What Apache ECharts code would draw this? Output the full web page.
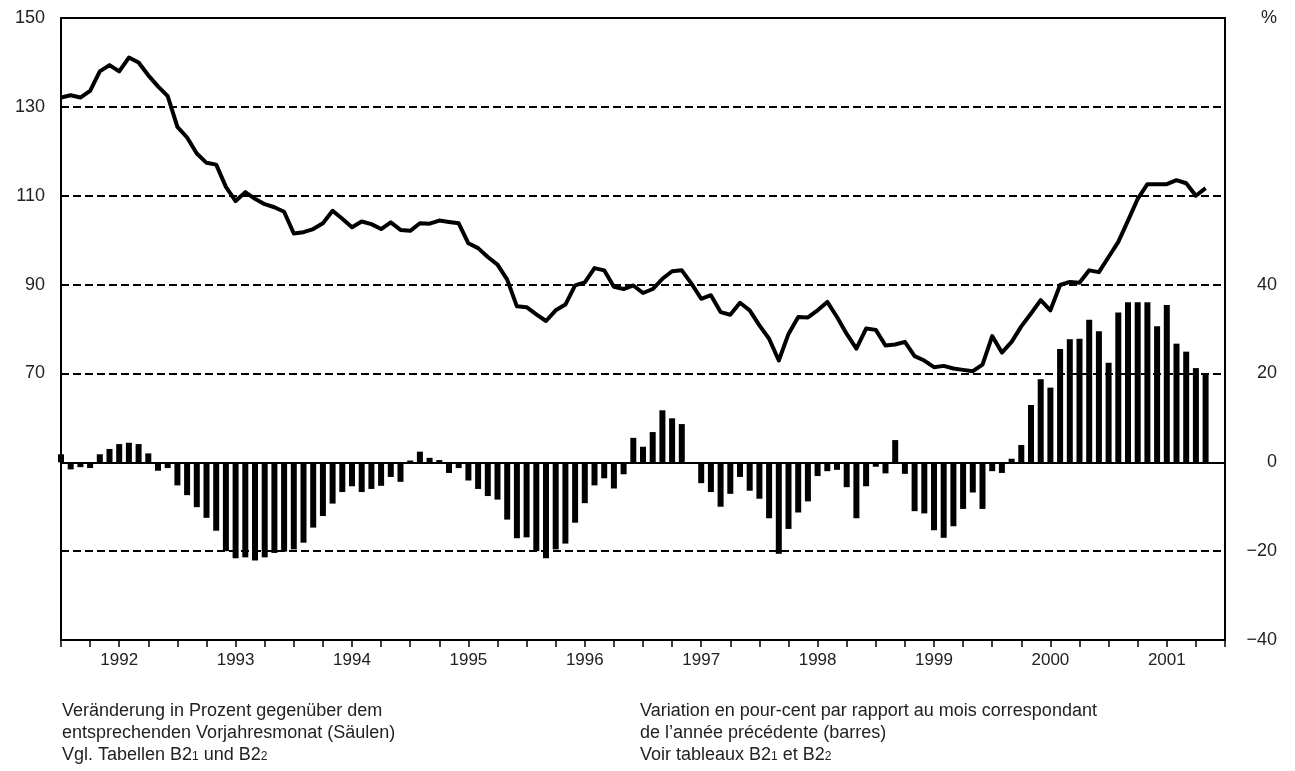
<!DOCTYPE html>
<html>
<head>
<meta charset="utf-8">
<title>Index und Veränderung</title>
<script src="https://cdn.jsdelivr.net/npm/echarts@6/dist/echarts.min.js"></script>
<style>
    html, body { margin: 0; padding: 0; background: #fff; }
    #chart { width: 1295px; height: 771px; }
</style>
</head>
<body>
<div id="chart"></div>
<script>
'use strict';

// Jahre auf der x-Achse (Monate ab Januar 1992)
var years = ['1992', '1993', '1994', '1995', '1996', '1997', '1998', '1999', '2000', '2001'];

// Index, linke Skala (Linie)
var indexValues = [
    132.1, 132.6, 132.1, 133.6, 138.0, 139.4, 138.0, 141.1, 140.0, 137.1, 134.6, 132.4,
    125.5, 123.1, 119.5, 117.4, 117.0, 112.0, 108.8, 110.8, 109.3, 108.1, 107.4, 106.4,
    101.5, 101.8, 102.5, 103.8, 106.6, 104.8, 102.9, 104.2, 103.6, 102.5, 104.0, 102.3,
    102.1, 103.8, 103.7, 104.4, 104.1, 103.8, 99.3, 98.2, 96.2, 94.5, 91.1, 85.1,
    84.9, 83.3, 81.8, 84.2, 85.5, 89.8, 90.5, 93.7, 93.2, 89.5, 89.0, 89.8,
    88.1, 89.0, 91.3, 93.0, 93.2, 90.2, 86.8, 87.6, 83.8, 83.2, 85.9, 84.2,
    80.8, 77.8, 72.9, 78.9, 82.7, 82.6, 84.2, 86.1, 82.7, 78.9, 75.6, 80.1,
    79.8, 76.3, 76.5, 77.1, 73.9, 72.9, 71.4, 71.7, 71.1, 70.8, 70.5, 72.0,
    78.4, 74.7, 77.1, 80.6, 83.5, 86.5, 84.2, 89.9, 90.6, 90.4, 93.2, 92.8,
    96.2, 99.6, 104.4, 109.3, 112.6, 112.6, 112.6, 113.5, 112.8, 110.0, 111.7
];

// Veränderung gegenüber Vorjahresmonat in %, rechte Skala (Säulen)
var changeValues = [
    1.8, -1.6, -1.1, -1.3, 1.8, 3.0, 4.1, 4.4, 4.1, 2.0, -1.9, -1.3,
    -5.2, -7.4, -10.1, -12.5, -15.4, -20.0, -21.6, -21.4, -22.1, -21.4, -20.4, -20.1,
    -19.6, -18.1, -14.7, -12.1, -9.3, -6.7, -5.4, -6.7, -6.0, -5.3, -3.3, -4.4,
    0.4, 2.4, 1.0, 0.5, -2.4, -1.3, -4.1, -6.0, -7.6, -8.4, -12.9, -17.1,
    -16.9, -20.0, -21.6, -19.6, -18.3, -13.6, -9.2, -5.2, -3.6, -5.9, -2.7, 5.5,
    3.5, 6.8, 11.7, 9.9, 8.6, -0.3, -4.7, -6.7, -10.0, -7.1, -3.3, -6.4,
    -8.2, -12.6, -20.6, -15.0, -11.3, -8.8, -3.1, -2.0, -1.7, -5.6, -12.6, -5.4,
    -1.0, -2.5, 5.0, -2.6, -11.0, -11.5, -15.3, -17.0, -14.4, -10.5, -6.8, -10.5,
    -2.0, -2.4, 0.8, 3.9, 12.9, 18.7, 16.8, 25.5, 27.7, 27.8, 32.1, 29.5,
    22.4, 33.7, 36.0, 36.0, 36.0, 30.6, 35.4, 26.7, 24.9, 21.2, 20.0
];

var textColor = '#222';
var fontFamily = '"Liberation Sans", Arial, sans-serif';

// Wertepaare [Monat, Wert]
var lineData = indexValues.map(function (v, i) { return [i, v]; });
var barData = changeValues.map(function (v, i) { return [i, v]; });

// kleine Ziffern hinter "B2"
var subStyle = {fontSize: 12, lineHeight: 17, verticalAlign: 'bottom', padding: [0, 0, 3, 0], fill: textColor};

var chart = echarts.init(document.getElementById('chart'));

chart.setOption({
    animation: false,
    textStyle: {fontFamily: fontFamily},
    grid: {
        left: 61, right: 70, top: 18, bottom: 131,
        show: true, borderColor: '#000', borderWidth: 2, backgroundColor: 'transparent'
    },
    xAxis: {
        type: 'value',
        min: 0,
        max: years.length * 12,
        interval: 3,
        axisLine: {onZero: false, lineStyle: {color: '#000', width: 2}},
        axisTick: {show: true, inside: false, length: 7, lineStyle: {color: '#000', width: 1.5}},
        splitLine: {show: false},
        axisLabel: {
            color: textColor, fontSize: 17, margin: 12,
            formatter: function (v) {
                return v % 12 === 6 ? years[(v - 6) / 12] : '';
            }
        }
    },
    yAxis: [{
        // linke Skala: Index
        type: 'value',
        position: 'left',
        min: 10, max: 150, interval: 20,
        axisLine: {show: true, lineStyle: {color: '#000', width: 2}},
        axisTick: {show: false},
        splitLine: {show: true, lineStyle: {color: '#000', width: 2, type: [8, 4]}},
        axisLabel: {
            color: textColor, fontSize: 18, margin: 16,
            formatter: function (v) { return v >= 70 ? String(v) : ''; }
        }
    }, {
        // rechte Skala: Prozent
        type: 'value',
        position: 'right',
        min: -40, max: 100, interval: 20,
        axisLine: {show: true, lineStyle: {color: '#000', width: 2}},
        axisTick: {show: false},
        splitLine: {show: false},
        axisLabel: {
            color: textColor, fontSize: 18, margin: 52, align: 'right',
            formatter: function (v) {
                if (v === 100) return '%';
                if (v > 40) return '';
                return v < 0 ? '\u2212' + Math.abs(v) : String(v);
            }
        }
    }],
    series: [{
        name: 'Veränderung',
        type: 'bar',
        yAxisIndex: 1,
        data: barData,
        barWidth: 6,
        clip: true,
        itemStyle: {color: '#000'},
        markLine: {
            symbol: 'none',
            silent: true,
            label: {show: false},
            lineStyle: {color: '#000', width: 2, type: 'solid'},
            data: [{yAxis: 0}]
        }
    }, {
        name: 'Index',
        type: 'line',
        yAxisIndex: 0,
        data: lineData,
        showSymbol: false,
        lineStyle: {color: '#000', width: 4, join: 'round'},
        z: 3
    }],
    graphic: [{
        type: 'text',
        left: 62, top: 700,
        style: {
            text: 'Veränderung in Prozent gegenüber dem\nentsprechenden Vorjahresmonat (Säulen)\nVgl. Tabellen B2{s|1} und B2{s|2}',
            fill: textColor, font: '18px ' + fontFamily, lineHeight: 22,
            rich: {s: subStyle}
        }
    }, {
        type: 'text',
        left: 640, top: 700,
        style: {
            text: 'Variation en pour-cent par rapport au mois correspondant\nde l\u2019année précédente (barres)\nVoir tableaux B2{s|1} et B2{s|2}',
            fill: textColor, font: '18px ' + fontFamily, lineHeight: 22,
            rich: {s: subStyle}
        }
    }]
});
</script>
</body>
</html>
